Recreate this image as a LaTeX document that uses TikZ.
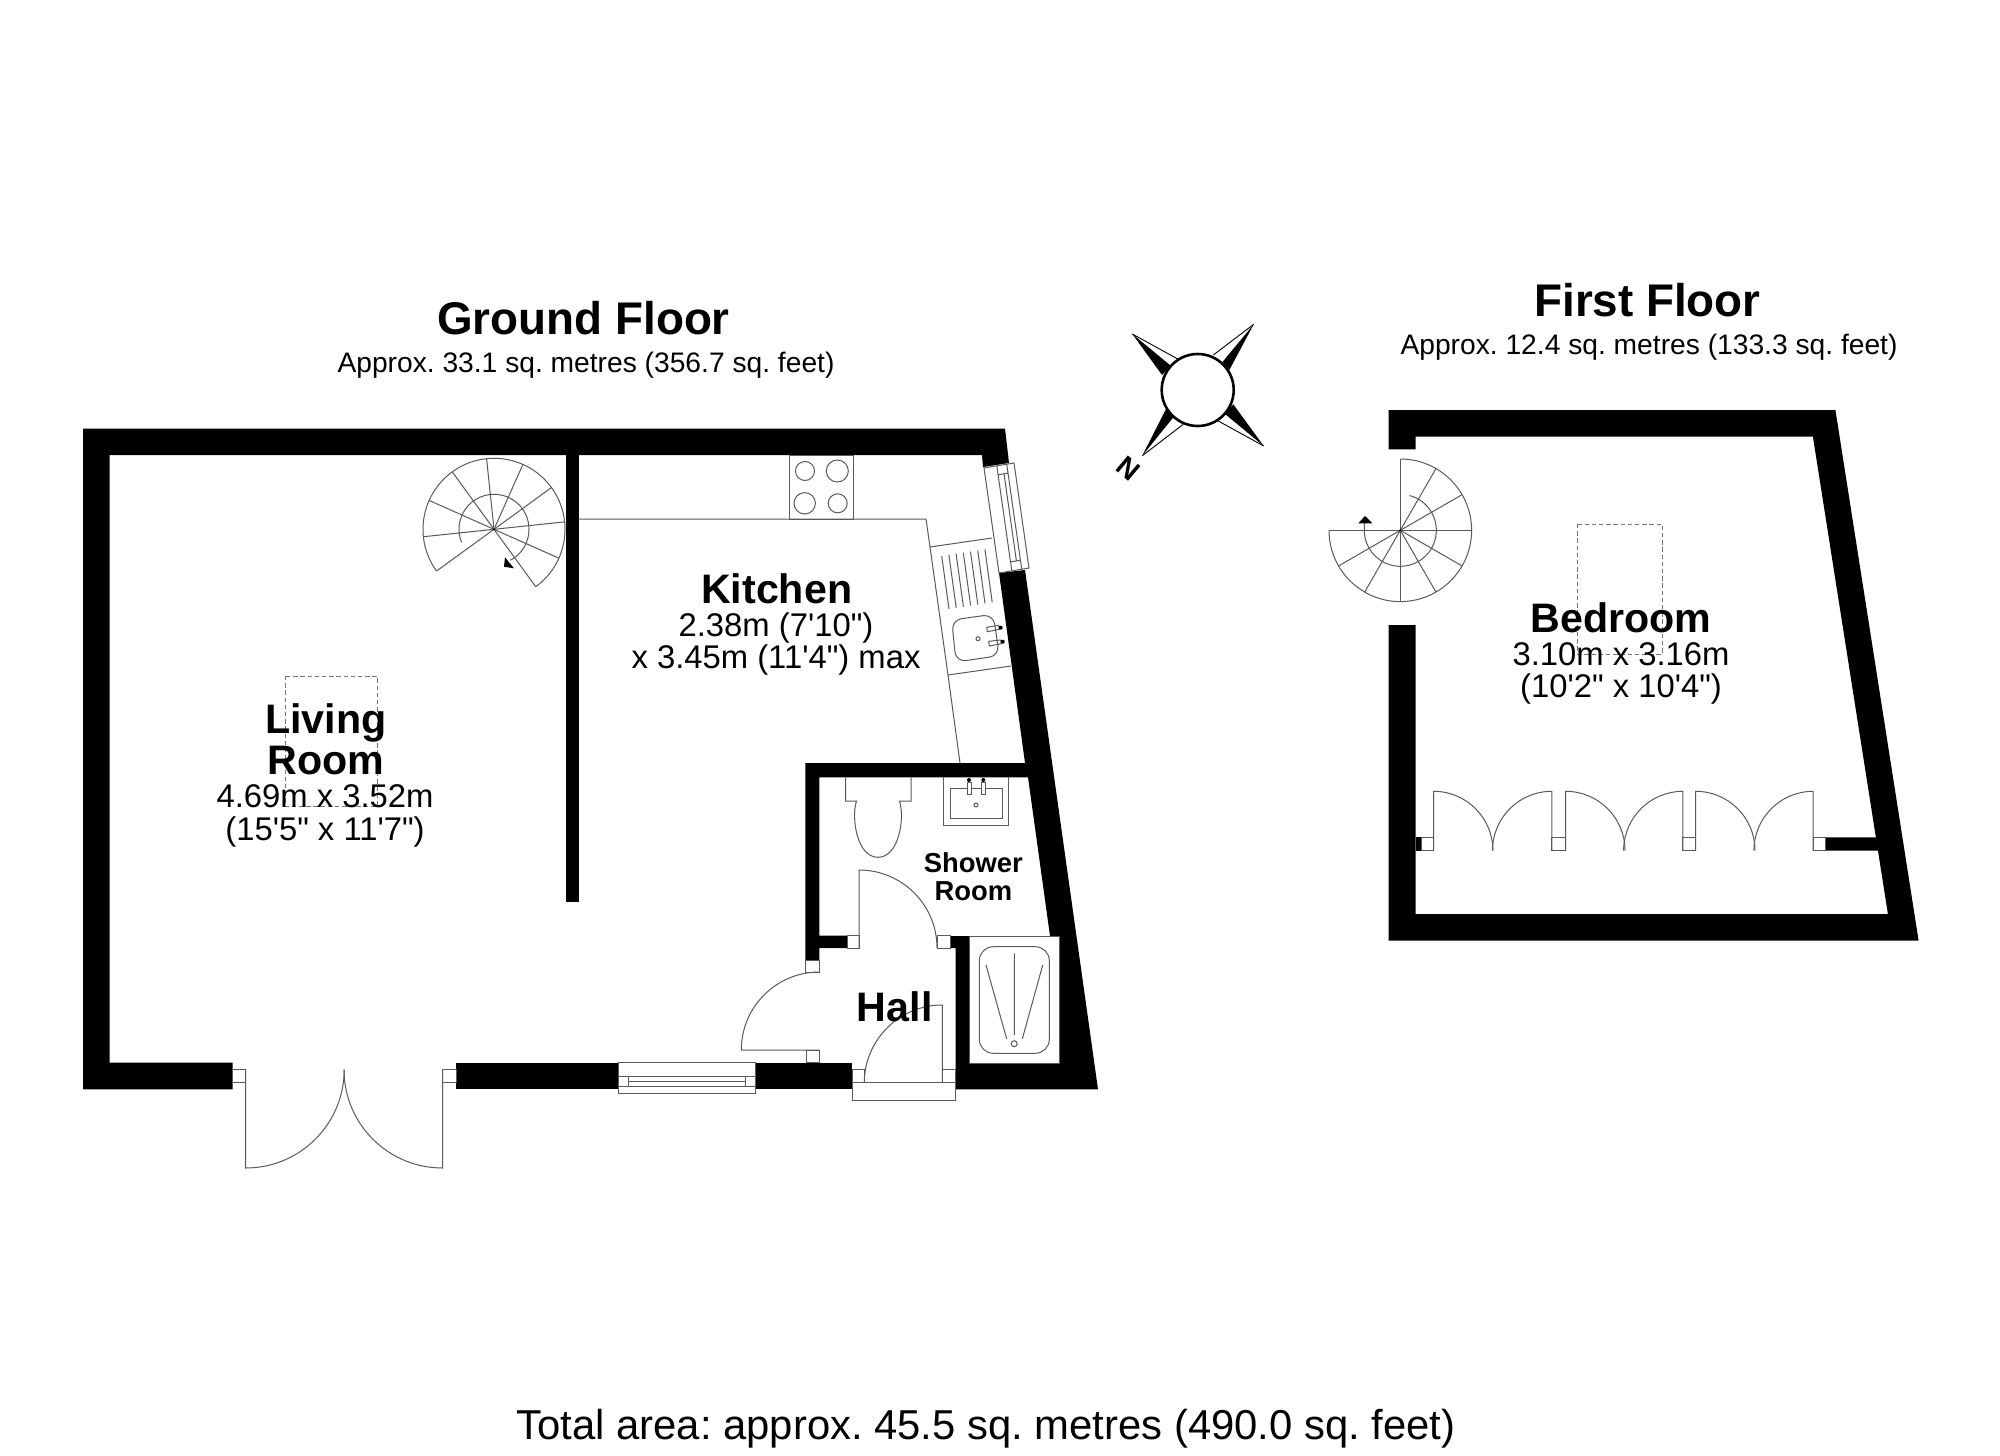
\documentclass[tikz,border=0pt]{standalone}
\usepackage{fontspec}
\newfontfamily\lib{Liberation Sans}
\usetikzlibrary{calc}
\definecolor{linegray}{HTML}{5A5A5A}
\tikzset{
  wall/.style={fill=black},
  fitting/.style={draw=linegray,line width=0.5pt},
  jamb/.style={fitting,fill=white},
  dashbox/.style={draw=black!55,line width=0.5pt,dash pattern=on 2.2pt off 1.4pt},
  blackbit/.style={fill=black},
  roomname/.style={anchor=base,inner sep=0pt,font=\frenchspacing\lib\bfseries\fontsize{20.6pt}{24pt}\selectfont},
  dims/.style={anchor=base,inner sep=0pt,font=\frenchspacing\lib\fontsize{16.4pt}{20pt}\selectfont},
  smallroom/.style={anchor=base,inner sep=0pt,font=\frenchspacing\lib\bfseries\fontsize{13.7pt}{16pt}\selectfont},
  floortitle/.style={anchor=base,inner sep=0pt,font=\frenchspacing\lib\bfseries\fontsize{22.9pt}{27pt}\selectfont},
  floorarea/.style={anchor=base,inner sep=0pt,font=\frenchspacing\lib\fontsize{14.1pt}{17pt}\selectfont},
  totalarea/.style={anchor=base,inner sep=0pt,font=\frenchspacing\lib\fontsize{20.9pt}{24pt}\selectfont},
}
\begin{document}
\begin{tikzpicture}[x=0.5pt,y=0.5pt]
\useasboundingbox (0,0) rectangle (2000,-1455);
\fill[white] (0,0) rectangle (2000,-1455);

% ---------- Ground floor walls
\path[wall] (83,-428.5) -- (1005,-428.5) -- (1009,-463) -- (983,-467) -- (982,-455) -- (109.5,-455)
  -- (109.5,-1062.7) -- (232.5,-1062.7) -- (232.5,-1089.3) -- (83,-1089.3) -- cycle;
\path[wall] (565.7,-455) rectangle (578.7,-902);
\path[wall] (456,-1062.7) rectangle (618,-1089.3);
\path[wall] (755.7,-1062.7) rectangle (852,-1089.3);
\path[wall] (999,-573) -- (1025,-763) -- (805.3,-763) -- (805.3,-960) -- (819.3,-960) -- (819.3,-948)
  -- (847,-948) -- (847,-935.5) -- (819.3,-935.5) -- (819.3,-777.3) -- (1028,-777.3) -- (1050,-936)
  -- (1059.3,-936) -- (1059.3,-1063) -- (969.3,-1063) -- (969.3,-936) -- (950,-936) -- (950,-948)
  -- (955.5,-948) -- (955.5,-1089.3) -- (1098,-1089.3) -- (1025,-570) -- cycle;

% ---------- Ground floor: patio doors
\path[jamb] (232.5,-1069.3) rectangle (245.7,-1082.7);
\path[jamb] (442.5,-1069.3) rectangle (456,-1082.7);
\draw[fitting] (245.7,-1069.3) -- (245.7,-1168) arc[start angle=270,end angle=360,radius=98.5];
\draw[fitting] (442.5,-1069.3) -- (442.5,-1168) arc[start angle=270,end angle=180,radius=98.5];

% ---------- Ground floor: bottom window
\draw[jamb] (618,-1062.7) rectangle (755.7,-1093.3);
\draw[fitting] (618,-1076) -- (755.7,-1076) (618,-1086) -- (755.7,-1086) (628,-1081.7) -- (745.7,-1081.7)
  (628,-1076) -- (628,-1086) (745.7,-1076) -- (745.7,-1086);

% ---------- Ground floor: right window
\draw[jamb] (984,-468) -- (999,-573) -- (1029,-568) -- (1014,-463) -- cycle;
\draw[fitting] (996.8,-465.9) -- (1011.8,-570.9) (1006.7,-464.2) -- (1021.7,-569.2) (1004,-473.8) -- (1016.4,-560.9)
  (998.1,-474.8) -- (1008,-473.1) (1010.5,-561.9) -- (1020.4,-560.2);

% ---------- Kitchen units
\draw[fitting] (578.7,-519) -- (926,-519) -- (930,-547) -- (948,-675) -- (960,-763);
\draw[fitting] (789,-455) rectangle (853.7,-519);
\draw[fitting] (805,-471) circle[radius=9.5] (837.3,-471) circle[radius=11]
  (804.7,-503.3) circle[radius=10.7] (837.7,-503.3) circle[radius=9.5];
\draw[fitting] (930,-547) -- (992,-538) (948,-675) -- (1011,-666);
\foreach \i in {0,...,6}
  \draw[fitting] ({941.7+7.2*\i},{-556+1.11*\i}) -- ({949+7.2*\i},{-609+1.11*\i});
\draw[fitting,rounded corners=5pt] (951.7,-620) -- (993.3,-614.3) -- (999.3,-655.7) -- (956,-662) -- cycle;
\draw[fitting] (978,-638.7) circle[radius=2];
\draw[fitting] (986.7,-627.3) -- (998.7,-625.3) -- (999.3,-629.3) -- (987.3,-631.7) -- cycle;
\draw[fitting] (988.7,-641.3) -- (1000.7,-640) -- (1001.3,-643.7) -- (989.3,-646) -- cycle;
\fill[blackbit] (1000.7,-627.7) circle[radius=2] (1002.7,-641.7) circle[radius=2];

% ---------- Ground stairs
\coordinate (gs) at (494,-529.3);
\foreach \a in {-54,-24,6,36,66,96,126,156,186,216}
  \draw[fitting] (gs) -- ++(\a:71);
\draw[fitting] ($(gs)+(-54:71)$) arc[start angle=-54,end angle=216,radius=71];
\draw[fitting] ($(gs)+(202:35)$) arc[start angle=202,end angle=-62,radius=35];
\fill[blackbit] (505,-557.3) -- (514,-568.3) -- (504,-566.7) -- cycle;
\fill[blackbit] (gs) circle[radius=1.2];

% ---------- Shower room
\draw[fitting] (845.7,-777.3) -- (845.7,-801) -- (856.5,-801)
  .. controls (851,-818) and (857,-857.3) .. (878,-857.3)
  .. controls (899,-857.3) and (905,-818) .. (899.5,-801) -- (911,-801) -- (911,-777.3);
\draw[fitting] (943.7,-777.3) -- (943.7,-825) -- (1008.7,-825) -- (1008.7,-777.3);
\draw[fitting] (950,-788.3) rectangle (1002.3,-818.7);
\draw[fitting] (976,-805) circle[radius=2];
\draw[jamb] (967,-782.7) rectangle (971.3,-794);
\draw[jamb] (981.3,-782.7) rectangle (985.7,-794);
\fill[blackbit] (969,-780) circle[radius=2] (983.3,-780) circle[radius=2];
% shower
\draw[fitting] (969.3,-936) rectangle (1059.3,-1063);
\draw[fitting,rounded corners=7pt] (979.3,-946.7) rectangle (1049.3,-1053.3);
\draw[fitting] (1014.3,-953.3) -- (1014.3,-1035) (986,-965) -- (1006.7,-1039) (1042.7,-965) -- (1022.3,-1039);
\draw[fitting] (1014.2,-1043.7) circle[radius=3];
% shower door
\path[jamb] (847,-935.5) rectangle (859,-948);
\path[jamb] (937.3,-935.5) rectangle (950,-948);
\draw[fitting] (859,-948) -- (859,-870) arc[start angle=90,end angle=0,radius=78];

% ---------- Hall doors
\path[jamb] (805.3,-960) rectangle (819.3,-972.5);
\path[jamb] (806,-1050) rectangle (819.3,-1062.7);
\draw[fitting] (819.3,-972) arc[start angle=90,end angle=180,radius=78] -- (819.3,-1050);
\draw[fitting] (852,-1082.7) rectangle (955.5,-1100);
\path[jamb] (852,-1069.3) rectangle (864.3,-1082.7);
\path[jamb] (942.3,-1069.3) rectangle (955.5,-1082.7);
\draw[fitting] (942.3,-1082.7) -- (942.3,-1005) arc[start angle=90,end angle=180,radius=78];

% ---------- Hatch outlines
\draw[dashbox] (285,-676) rectangle (377.3,-806);
\draw[dashbox] (1577.5,-524) rectangle (1662,-654);

% ---------- Compass
\draw[line width=1.3pt,fill=white] (1197.7,-390) circle[radius=36];
\fill[blackbit] (1132.3,-334) -- (1170.7,-365.7) -- (1162,-375) -- cycle;
\fill[blackbit] (1253.7,-324.3) -- (1222.7,-361.7) -- (1229.3,-370) -- cycle;
\fill[blackbit] (1263.7,-446) -- (1233.3,-404.3) -- (1225,-414) -- cycle;
\fill[blackbit] (1142.3,-455.7) -- (1166,-409) -- (1173.3,-417.3) -- cycle;
\draw[line width=0.45pt] (1132.3,-334) -- (1178.3,-359.3) (1253.7,-324.3) -- (1213.3,-355)
  (1263.7,-446) -- (1218.3,-421) (1142.3,-455.7) -- (1183.3,-424.3);
\node[inner sep=0pt,rotate=-40,font=\lib\bfseries\fontsize{14pt}{16pt}\selectfont] (northmark) at (1128,-469) {N};

% ---------- First floor walls
\path[wall] (1388.6,-410) -- (1835.4,-410) -- (1918.6,-940.7) -- (1388.6,-940.7) -- (1388.6,-625)
  -- (1415.7,-625) -- (1415.7,-914) -- (1887.9,-914) -- (1812.9,-436.7) -- (1415.7,-436.7)
  -- (1415.7,-449.3) -- (1388.6,-449.3) -- cycle;
\path[wall] (1415.7,-837.3) rectangle (1421,-850.7);
\path[wall] (1825.7,-837.3) -- (1876.5,-837.3) -- (1878.7,-850.7) -- (1825.7,-850.7) -- cycle;

% ---------- First floor stairs
\coordinate (fs) at (1400.3,-530.3);
\foreach \a in {90,60,30,0,-30,-60,-90,-120,-150,-180}
  \draw[fitting] (fs) -- ++(\a:71.3);
\draw[fitting] ($(fs)+(90:71.3)$) arc[start angle=90,end angle=-180,radius=71.3];
\draw[fitting] ($(fs)+(75:36)$) arc[start angle=75,end angle=-180,radius=36] -- ++(0,7);
\fill[blackbit] (1358.3,-523.3) -- (1372.3,-523.3) -- (1365,-516) -- cycle;
\fill[blackbit] (fs) circle[radius=1.2];

% ---------- First floor wardrobe doors
\path[jamb] (1421,-837.3) rectangle (1433.6,-850.7);
\path[jamb] (1551.8,-837.3) rectangle (1565.7,-850.7);
\path[jamb] (1682.9,-837.3) rectangle (1695.7,-850.7);
\path[jamb] (1813.2,-837.3) rectangle (1825.7,-850.7);
\foreach \l/\r in {1433.6/1551.8,1565.7/1682.9,1695.7/1813.2}{
  \draw[fitting] (\l,-850.7) -- (\l,-791.3) arc[start angle=90,end angle=0,radius=59.3];
  \draw[fitting] (\r,-850.7) -- (\r,-791.3) arc[start angle=90,end angle=180,radius=59.3];
}

% ---------- Text
\node[floortitle] (gftitle) at (583.5,-334) {Ground Floor};
\node[floorarea] (gfarea) at (586,-372.5) {Approx. 33.1 sq. metres (356.7 sq. feet)};
\node[floortitle] (fftitle) at (1647.5,-316) {First Floor};
\node[floorarea] (ffarea) at (1649,-354) {Approx. 12.4 sq. metres (133.3 sq. feet)};
\node[roomname] (living) at (326,-733.3) {Living};
\node[roomname] (room) at (326,-774.3) {Room};
\node[dims] (livinga) at (325,-807.7) {4.69m x 3.52m};
\node[dims] (livingb) at (325,-840) {(15'5" x 11'7")};
\node[roomname] (kitchen) at (776.7,-603.3) {Kitchen};
\node[dims] (kitchena) at (776,-636) {2.38m (7'10")};
\node[dims] (kitchenb) at (776,-668.3) {x 3.45m (11'4") max};
\node[smallroom] (showera) at (973.3,-872.3) {Shower};
\node[smallroom] (showerb) at (973.3,-900) {Room};
\node[roomname] (hall) at (894.7,-1021.7) {Hall};
\node[roomname] (bedroom) at (1621,-632.7) {Bedroom};
\node[dims] (bedrooma) at (1621,-665) {3.10m x 3.16m};
\node[dims] (bedroomb) at (1621,-697.7) {(10'2" x 10'4")};
\node[totalarea] (total) at (986,-1439) {Total area: approx. 45.5 sq. metres (490.0 sq. feet)};
\end{tikzpicture}
\end{document}
